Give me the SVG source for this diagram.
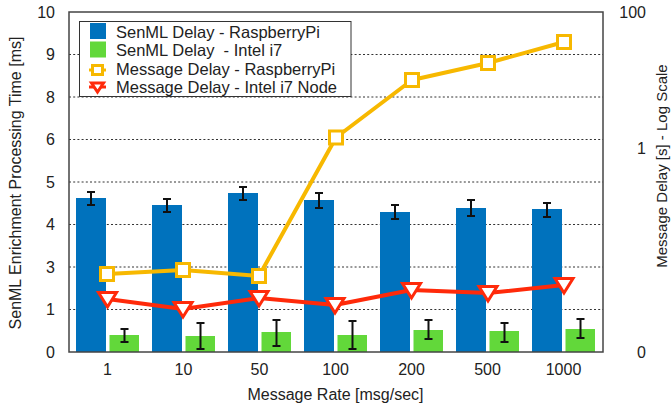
<svg xmlns="http://www.w3.org/2000/svg" width="671" height="411" viewBox="0 0 671 411">
<style>
text{font-family:"Liberation Sans",Arial,sans-serif;font-size:16px;fill:#222}
.grid{stroke:#333;stroke-width:1;stroke-dasharray:2 2.2;fill:none}
.blue{fill:#0072bd}
.green{fill:#62d83a}
.err{stroke:#111;stroke-width:2;fill:none}
.oline{stroke:#f7b800;stroke-width:4;fill:none;stroke-linejoin:round}
.rline{stroke:#ff2a0a;stroke-width:4;fill:none;stroke-linejoin:round}
.ax{stroke:#444;stroke-width:1.5;fill:none}
.tl{text-anchor:end}
.cl{text-anchor:middle}
.lg{font-size:16.5px}
</style>
<defs>
<g id="sq"><rect x="-6.5" y="-6.5" width="13" height="13" fill="#fff" stroke="#f7b800" stroke-width="3"/></g>
<g id="tri"><path d="M-9,-6.5 L9,-6.5 L0,8 Z" fill="#fff" stroke="#ff2a0a" stroke-width="3" stroke-linejoin="miter"/></g>
</defs>
<rect width="671" height="411" fill="#fff"/>
<g id="gridlines">
<line class="grid" x1="69" y1="309.5" x2="603" y2="309.5"/>
<line class="grid" x1="69" y1="267" x2="603" y2="267"/>
<line class="grid" x1="69" y1="224.5" x2="603" y2="224.5"/>
<line class="grid" x1="69" y1="182" x2="603" y2="182"/>
<line class="grid" x1="69" y1="139.5" x2="603" y2="139.5"/>
<line class="grid" x1="69" y1="97" x2="603" y2="97"/>
<line class="grid" x1="69" y1="54.5" x2="603" y2="54.5"/>
</g>
<g id="bars-rpi">
<rect class="blue" x="76" y="198" width="30" height="154"/>
<rect class="blue" x="152" y="205" width="30" height="147"/>
<rect class="blue" x="228" y="193" width="30" height="159"/>
<rect class="blue" x="304" y="200" width="30" height="152"/>
<rect class="blue" x="380" y="212" width="30" height="140"/>
<rect class="blue" x="456" y="208" width="30" height="144"/>
<rect class="blue" x="532" y="209" width="30" height="143"/>
</g>
<g id="bars-i7">
<rect class="green" x="109.5" y="335" width="29.5" height="17"/>
<rect class="green" x="185.5" y="336" width="29.5" height="16"/>
<rect class="green" x="261.5" y="332" width="29.5" height="20"/>
<rect class="green" x="337.5" y="335" width="29.5" height="17"/>
<rect class="green" x="413.5" y="330" width="29.5" height="22"/>
<rect class="green" x="489.5" y="331" width="29.5" height="21"/>
<rect class="green" x="565.5" y="329" width="29.5" height="23"/>
</g>
<g id="errorbars">
<path class="err" d="M91,192V205M87,192H95M87,205H95"/>
<path class="err" d="M167,199V212M163,199H171M163,212H171"/>
<path class="err" d="M243,187V200M239,187H247M239,200H247"/>
<path class="err" d="M319,193V208M315,193H323M315,208H323"/>
<path class="err" d="M395,205V219M391,205H399M391,219H399"/>
<path class="err" d="M471,200V216M467,200H475M467,216H475"/>
<path class="err" d="M547,203V217M543,203H551M543,217H551"/>
<path class="err" d="M124.5,329V342M120.5,329H128.5M120.5,342H128.5"/>
<path class="err" d="M200.5,323V349M196.5,323H204.5M196.5,349H204.5"/>
<path class="err" d="M276.5,320V346M272.5,320H280.5M272.5,346H280.5"/>
<path class="err" d="M352.5,321V349M348.5,321H356.5M348.5,349H356.5"/>
<path class="err" d="M428.5,320V339M424.5,320H432.5M424.5,339H432.5"/>
<path class="err" d="M504.5,323V342M500.5,323H508.5M500.5,342H508.5"/>
<path class="err" d="M580.5,319V338M576.5,319H584.5M576.5,338H584.5"/>
</g>
<g id="connectors">
<polyline id="line-rpi" class="oline" points="107,274 183,270 259,276 336,137.5 412,80 488,63 564,42"/>
<polyline id="line-i7" class="rline" points="107.5,299 183,309 259,298 335,305 411.5,290 488,293 564,285"/>
</g>
<g id="markers-rpi">
<use href="#sq" x="107" y="274"/>
<use href="#sq" x="183" y="270"/>
<use href="#sq" x="259" y="276"/>
<use href="#sq" x="336" y="137.5"/>
<use href="#sq" x="412" y="80"/>
<use href="#sq" x="488" y="63"/>
<use href="#sq" x="564" y="42"/>
</g>
<g id="markers-i7">
<use href="#tri" x="107.5" y="299"/>
<use href="#tri" x="183" y="309"/>
<use href="#tri" x="259" y="298"/>
<use href="#tri" x="335" y="305"/>
<use href="#tri" x="411.5" y="290"/>
<use href="#tri" x="488" y="293"/>
<use href="#tri" x="564" y="285"/>
</g>
<g id="axes">
<rect class="ax" x="69" y="12" width="534" height="340"/>
</g>
<g id="left-ticks">
<text class="tl" x="55" y="357.5">0</text>
<text class="tl" x="55" y="315">1</text>
<text class="tl" x="55" y="272.5">3</text>
<text class="tl" x="55" y="230">4</text>
<text class="tl" x="55" y="187.5">5</text>
<text class="tl" x="55" y="145">6</text>
<text class="tl" x="55" y="102.5">8</text>
<text class="tl" x="55" y="60">9</text>
<text class="tl" x="55" y="17.5">10</text>
</g>
<g id="right-ticks">
<text class="tl" x="646" y="17.5">100</text>
<text class="tl" x="646" y="153.5">1</text>
<text class="tl" x="646" y="357.5">0</text>
</g>
<g id="categories">
<text class="cl" x="107.5" y="375">1</text>
<text class="cl" x="183.5" y="375">10</text>
<text class="cl" x="259.5" y="375">50</text>
<text class="cl" x="335.5" y="375">100</text>
<text class="cl" x="411.5" y="375">200</text>
<text class="cl" x="487.5" y="375">500</text>
<text class="cl" x="563.5" y="375">1000</text>
</g>
<g id="axis-titles">
<text class="cl" x="335.5" y="400">Message Rate [msg/sec]</text>
<text class="cl" transform="translate(21,183) rotate(-90)">SenML Enrichment Processing Time [ms]</text>
<text class="cl" style="font-size:15px" transform="translate(667,166) rotate(-90)">Message Delay [s] - Log Scale</text>
</g>
<g id="legend">
<rect x="79.5" y="21.5" width="271.5" height="75" fill="#fff" stroke="#333" stroke-width="1"/>
<rect class="blue" x="90" y="23" width="16" height="16"/>
<rect class="green" x="90" y="41.5" width="16" height="16"/>
<line class="oline" x1="89" y1="70" x2="106" y2="70" style="stroke-width:3"/>
<rect x="92.5" y="65.5" width="10" height="9" fill="#fff" stroke="#f7b800" stroke-width="3"/>
<line class="rline" x1="89" y1="87" x2="106" y2="87" style="stroke-width:3"/>
<path d="M91.5,83 L103.5,83 L97.5,92 Z" fill="#fff" stroke="#ff2a0a" stroke-width="3"/>
<text class="lg" x="116" y="37.5">SenML Delay - RaspberryPi</text>
<text class="lg" x="116" y="56" xml:space="preserve">SenML Delay  - Intel i7</text>
<text class="lg" x="116" y="74.5">Message Delay - RaspberryPi</text>
<text class="lg" x="116" y="93">Message Delay - Intel i7 Node</text>
</g>
</svg>
